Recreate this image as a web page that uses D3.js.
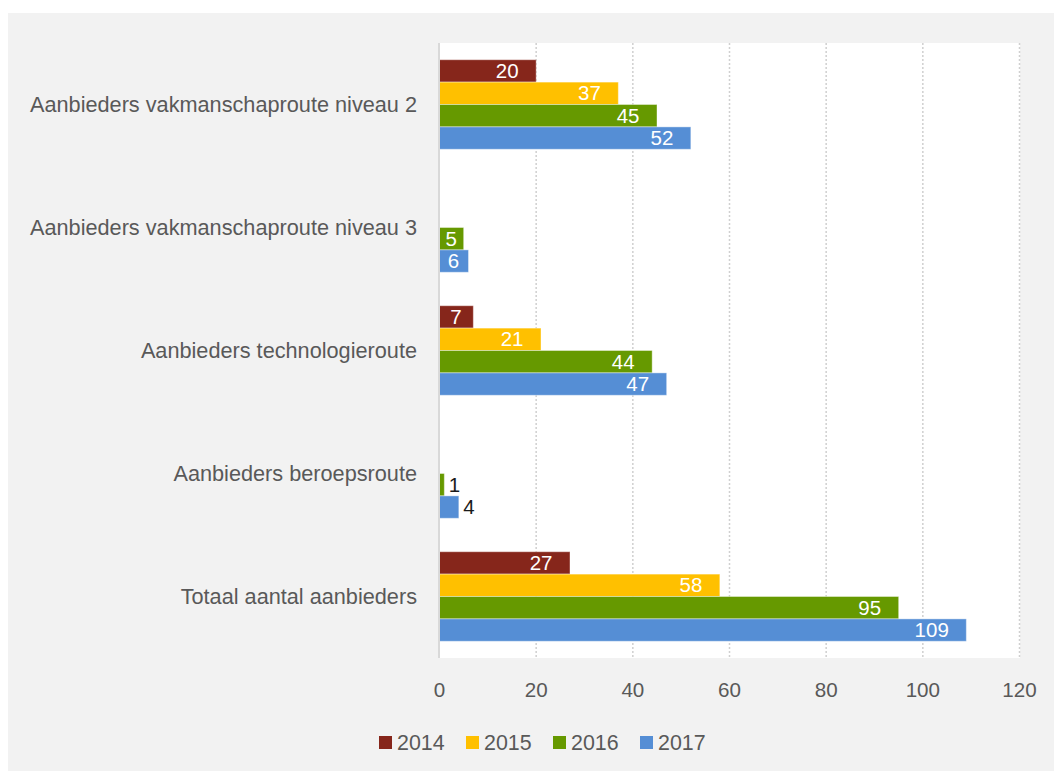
<!DOCTYPE html>
<html>
<head>
<meta charset="utf-8">
<script src="https://cdn.jsdelivr.net/npm/d3@7"></script>
<style>
  body { margin: 0; background: #ffffff; }
  text { font-family: "Liberation Sans", Arial, sans-serif; }
</style>
</head>
<body>
<div id="chart"></div>
<script>
var categories = [
  "Aanbieders vakmanschaproute niveau 2",
  "Aanbieders vakmanschaproute niveau 3",
  "Aanbieders technologieroute",
  "Aanbieders beroepsroute",
  "Totaal aantal aanbieders"
];
var years = ["2014", "2015", "2016", "2017"];
var values2014 = [20, null, 7, null, 27];
var values2015 = [37, null, 21, null, 58];
var values2016 = [45, 5, 44, 1, 95];
var values2017 = [52, 6, 47, 4, 109];
var xTicks = [0, 20, 40, 60, 80, 100, 120];
var colors = ["#86261b", "#ffc000", "#669900", "#558ed5"];

var W = 1054, H = 771;
var plot = { left: 439, right: 1019, top: 43, bottom: 658 };

var series = [values2014, values2015, values2016, values2017];

var svg = d3.select("#chart").append("svg")
  .attr("width", W)
  .attr("height", H);

// outer chart background
svg.append("rect")
  .attr("x", 8).attr("y", 13)
  .attr("width", W - 8).attr("height", H - 13)
  .style("fill", "#f2f2f2");

// plot area
svg.append("rect")
  .attr("x", plot.left - 1).attr("y", plot.top)
  .attr("width", plot.right - plot.left + 2).attr("height", plot.bottom - plot.top)
  .style("fill", "#ffffff");

var x = d3.scaleLinear().domain([0, 120]).range([plot.left, plot.right]);
var y = d3.scaleBand().domain(categories).range([plot.top, plot.bottom])
  .paddingInner(0.272).paddingOuter(0.136);
var ySub = d3.scaleBand().domain(years).range([0, y.bandwidth()]);

// dotted gridlines
svg.append("g").selectAll("line")
  .data(xTicks.filter(function(d) { return d > 0; }))
  .enter().append("line")
  .attr("x1", function(d) { return x(d) + 0.5; })
  .attr("x2", function(d) { return x(d) + 0.5; })
  .attr("y1", plot.top).attr("y2", plot.bottom)
  .style("stroke", "#d0d0d0")
  .style("stroke-width", 1.5)
  .style("stroke-dasharray", "2,2");

// x axis, tick labels only
var xAxis = d3.axisBottom(x).tickValues(xTicks).tickSize(0).tickPadding(0);
var gx = svg.append("g")
  .attr("transform", "translate(0," + 690 + ")")
  .call(xAxis);
gx.attr("font-family", null);
gx.select(".domain").remove();
gx.selectAll("text")
  .attr("dy", "0.35em")
  .style("font-size", "20.6px")
  .style("fill", "#595959");

// category labels
var yAxis = d3.axisLeft(y).tickSize(0).tickPadding(0);
var gy = svg.append("g")
  .attr("transform", "translate(" + 417 + ",0)")
  .call(yAxis);
gy.attr("font-family", null);
gy.select(".domain").remove();
gy.selectAll("text")
  .attr("dy", "0.35em")
  .style("font-size", "21.7px")
  .style("fill", "#595959");

// bars
var rows = [];
categories.forEach(function(c, i) {
  years.forEach(function(yr, j) {
    var v = series[j][i];
    if (v != null) rows.push({ cat: c, year: yr, value: v, color: colors[j] });
  });
});

var bars = svg.append("g").selectAll("g")
  .data(rows).enter().append("g")
  .attr("transform", function(d) { return "translate(0," + (y(d.cat) + ySub(d.year)) + ")"; });

bars.append("rect")
  .attr("x", x(0) + 0.5)
  .attr("width", function(d) { return x(d.value) - x(0); })
  .attr("height", ySub.bandwidth())
  .style("fill", function(d) { return d.color; })
  .style("stroke", "#ffffff")
  .style("stroke-opacity", 0.4)
  .style("stroke-width", 1);

bars.append("text")
  .attr("y", ySub.bandwidth() / 2)
  .attr("dy", "0.35em")
  .style("font-size", "20.5px")
  .text(function(d) { return d.value; })
  .each(function(d) {
    var t = d3.select(this);
    var tw = this.getComputedTextLength();
    var bw = x(d.value) - x(0);
    if (bw < 20) {
      t.attr("x", x(d.value) + 5).style("text-anchor", "start").style("fill", "#1a1a1a");
    } else {
      var gap = Math.min(17, (bw - tw) / 2);
      t.attr("x", x(d.value) - gap).style("text-anchor", "end").style("fill", "#ffffff");
    }
  });

// axis line at 0
svg.append("line")
  .attr("x1", x(0)).attr("x2", x(0))
  .attr("y1", plot.top).attr("y2", plot.bottom)
  .style("stroke", "#d9d9d9")
  .style("stroke-width", 2);

// legend
var legend = svg.append("g").selectAll("g")
  .data(years).enter().append("g")
  .attr("transform", function(d, i) { return "translate(" + (379 + i * 87) + ",736)"; });

legend.append("rect")
  .attr("width", 13).attr("height", 13)
  .style("fill", function(d, i) { return colors[i]; });

legend.append("text")
  .attr("x", 18).attr("y", 6.5)
  .attr("dy", "0.35em")
  .style("font-size", "21.4px")
  .style("fill", "#595959")
  .text(function(d) { return d; });
</script>
</body>
</html>
